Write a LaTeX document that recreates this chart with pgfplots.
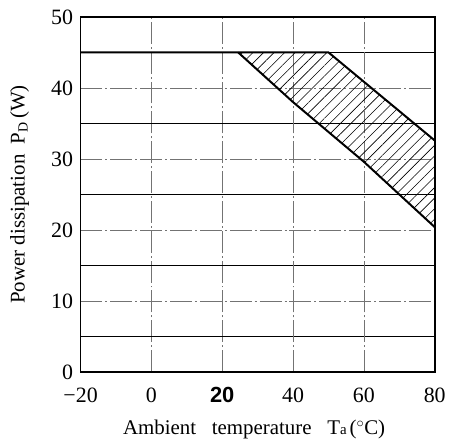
\documentclass[border=0pt]{standalone}
\usepackage{fontspec}
\setmainfont{Liberation Serif}
\newfontfamily\sansbold{Liberation Sans}
\usepackage{pgfplots}
\pgfplotsset{compat=1.18}
\usepgfplotslibrary{fillbetween}
\usetikzlibrary{patterns.meta}

\begin{document}
\begin{tikzpicture}
\begin{axis}[
  scale only axis,
  width=356pt, height=357pt,
  xmin=-20, xmax=80, ymin=0, ymax=50,
  xtick={-20,0,20,40,60,80},
  xticklabels={−20,0,{\sansbold\bfseries 20},40,60,80},
  ytick={0,10,20,30,40,50},
  minor ytick={5,15,25,35,45},
  extra x ticks={40,60},
  extra x tick labels={},
  extra x tick style={grid style={black, line width=0.7pt, solid}},
  tick style={draw=none},
  /pgf/number format/assume math mode=true,
  ticklabel style={font=\fontsize{22}{24}\selectfont},
  xticklabel style={yshift=-12pt},
  yticklabel style={xshift=-4pt},
  xmajorgrids, ymajorgrids, yminorgrids,
  major grid style={black!55, line width=0.7pt, dash pattern=on 22pt off 3pt on 2pt off 3pt},
  minor grid style={black, line width=0.7pt, solid},
  axis line style={line width=1.6pt},
  xlabel={Ambient\ \ \ temperature\ \ \ T{\fontsize{15}{16}\selectfont a}\kern3pt($^\circ$C)},
  ylabel={Power dissipation\ \ P\raisebox{-0.3ex}{\fontsize{14}{16}\selectfont D}\,(W)},
  label style={font=\fontsize{21}{22}\selectfont},
  xlabel style={at={(axis description cs:0.49,-0.163)}, anchor=center},
  ylabel style={at={(axis description cs:-0.172,0.5)}, anchor=center},
]
\addplot[name path=upper, black, line width=2pt] coordinates {(-20,45)(50,45)(80,32.6)};
\addplot[name path=lower, black, line width=2pt] coordinates {(24.5,45)(40,38)(60,29.6)(80,20.4)};
\addplot[pattern={Lines[angle=45, distance=7.5pt, line width=0.6pt]}, draw=none]
  fill between[of=upper and lower, soft clip={domain=24.5:80}];
\end{axis}
\path ([xshift=-81pt,yshift=-61pt]current axis.south west) rectangle ([xshift=12pt,yshift=17pt]current axis.north east);
\end{tikzpicture}
\end{document}
